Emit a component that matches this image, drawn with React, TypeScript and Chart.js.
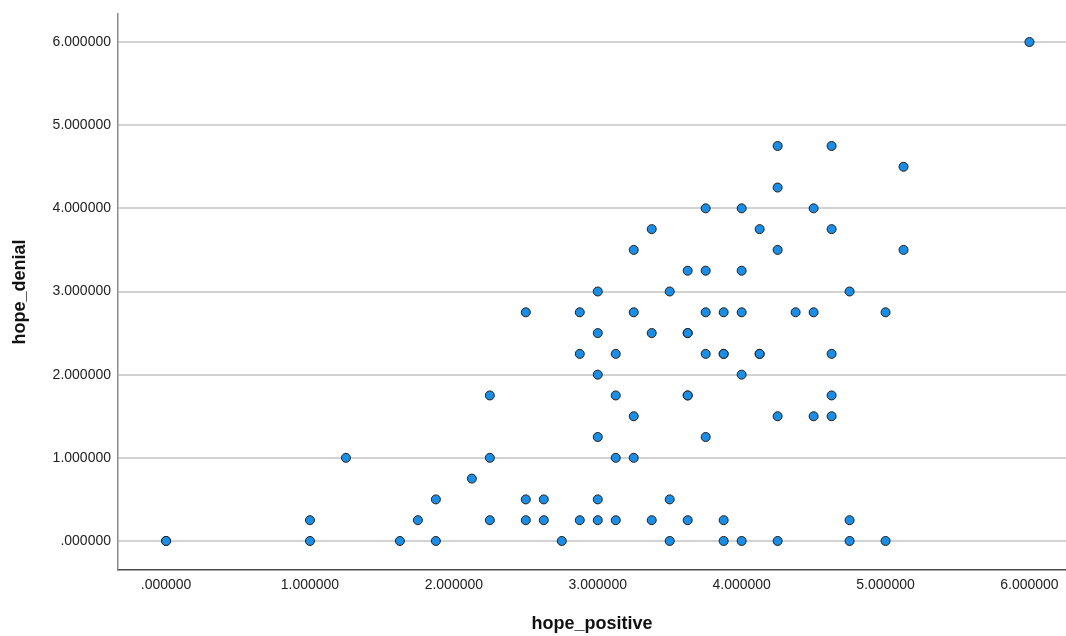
import React, { useEffect, useRef } from "react";
import { Chart, registerables } from "chart.js";

Chart.register(...registerables);

const xTitle = "hope_positive";
const yTitle = "hope_denial";
const xTickValues = [0, 1, 2, 3, 4, 5, 6];
const yTickValues = [0, 1, 2, 3, 4, 5, 6];

const hopePositive = [
  6.0,
  4.25, 4.625,
  5.125,
  4.25,
  3.75, 4.0, 4.5,
  3.375, 4.125, 4.625,
  3.25, 4.25, 5.125,
  3.625, 3.75, 4.0,
  3.0, 3.5, 4.75,
  2.5, 2.875, 3.25, 3.75, 3.875, 4.0, 4.375, 4.5, 5.0,
  3.0, 3.375, 3.625, 3.625,
  2.875, 3.125, 3.75, 3.875, 3.875, 4.125, 4.125, 4.625,
  3.0, 4.0,
  2.25, 3.125, 3.625, 3.625, 4.625,
  3.25, 4.25, 4.5, 4.625,
  3.0, 3.75,
  1.25, 2.25, 3.125, 3.25,
  2.125,
  1.875, 2.5, 2.625, 3.0, 3.5,
  1.0, 1.75, 2.25, 2.5, 2.625, 2.875, 3.0, 3.125, 3.375, 3.625, 3.875, 4.75,
  0.0, 0.0, 1.0, 1.625, 1.875, 2.75, 3.5, 3.875, 4.0, 4.25, 4.75, 5.0,
];

const hopeDenial = [
  6.0,
  4.75, 4.75,
  4.5,
  4.25,
  4.0, 4.0, 4.0,
  3.75, 3.75, 3.75,
  3.5, 3.5, 3.5,
  3.25, 3.25, 3.25,
  3.0, 3.0, 3.0,
  2.75, 2.75, 2.75, 2.75, 2.75, 2.75, 2.75, 2.75, 2.75,
  2.5, 2.5, 2.5, 2.5,
  2.25, 2.25, 2.25, 2.25, 2.25, 2.25, 2.25, 2.25,
  2.0, 2.0,
  1.75, 1.75, 1.75, 1.75, 1.75,
  1.5, 1.5, 1.5, 1.5,
  1.25, 1.25,
  1.0, 1.0, 1.0, 1.0,
  0.75,
  0.5, 0.5, 0.5, 0.5, 0.5,
  0.25, 0.25, 0.25, 0.25, 0.25, 0.25, 0.25, 0.25, 0.25, 0.25, 0.25, 0.25,
  0.0, 0.0, 0.0, 0.0, 0.0, 0.0, 0.0, 0.0, 0.0, 0.0, 0.0, 0.0,
];

const fmt = (v: number) => (v === 0 ? ".000000" : v.toFixed(6));
const FAMILY = "'Liberation Sans', Arial, sans-serif";

export default function App() {
  const ref = useRef<HTMLCanvasElement | null>(null);

  useEffect(() => {
    if (!ref.current) return;
    const points = hopePositive.map((x, i) => ({ x, y: hopeDenial[i] }));
    const chart = new Chart(ref.current, {
      type: "scatter",
      data: {
        datasets: [
          {
            data: points,
            backgroundColor: "#1a8ee6",
            borderColor: "#1f1f1f",
            borderWidth: 1,
            pointRadius: 4.5,
            pointHoverRadius: 4.5,
          },
        ],
      },
      options: {
        animation: false,
        responsive: false,
        devicePixelRatio: 1,
        layout: { autoPadding: false, padding: { top: 14, right: 0, left: 0, bottom: 0 } },
        plugins: { legend: { display: false }, tooltip: { enabled: false } },
        scales: {
          x: {
            type: "linear",
            min: -0.334,
            max: 6.254,
            afterBuildTicks: (scale: any) => {
              scale.ticks = xTickValues.map((v) => ({ value: v }));
            },
            afterFit: (scale: any) => {
              scale.height = 66;
              scale.paddingLeft = 0;
              scale.paddingRight = 0;
            },
            grid: { display: false, drawTicks: false },
            border: { display: true, color: "#4a4a4a", width: 1.5 },
            ticks: {
              padding: 7,
              color: "#222",
              font: { family: FAMILY, size: 14 },
              callback: (v: any) => fmt(Number(v)),
              maxRotation: 0,
              autoSkip: false,
            },
            title: {
              display: true,
              text: xTitle,
              color: "#111",
              font: { family: FAMILY, size: 18, weight: "bold" },
              padding: { top: 0, bottom: 1.6 },
            },
          },
          y: {
            type: "linear",
            min: -0.349,
            max: 6.337,
            afterBuildTicks: (scale: any) => {
              scale.ticks = yTickValues.map((v) => ({ value: v }));
            },
            afterFit: (scale: any) => {
              scale.width = 118;
              scale.paddingTop = 0;
              scale.paddingBottom = 0;
            },
            grid: { display: true, drawTicks: false, color: "#d2d2d2", lineWidth: 2 },
            border: { display: true, color: "#8a8a8a", width: 1.5 },
            ticks: {
              padding: 7,
              color: "#222",
              font: { family: FAMILY, size: 14 },
              callback: (v: any) => fmt(Number(v)),
              autoSkip: false,
            },
            title: {
              display: true,
              text: yTitle,
              color: "#111",
              font: { family: FAMILY, size: 18, weight: "bold" },
              padding: { top: 8.8, bottom: 0 },
            },
          },
        },
      },
    });
    return () => chart.destroy();
  }, []);

  return (
    <div style={{ position: "fixed", left: 0, top: 0, width: 1066, height: 636, background: "#fff" }}>
      <canvas ref={ref} width={1066} height={636} style={{ width: 1066, height: 636, display: "block" }} />
    </div>
  );
}
